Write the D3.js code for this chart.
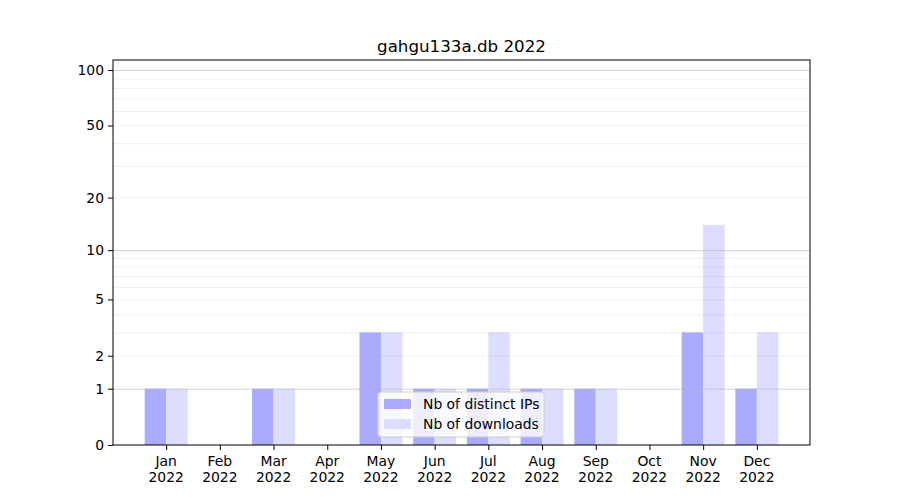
<!DOCTYPE html>
<html><head><meta charset="utf-8">
<script src="https://cdn.jsdelivr.net/npm/d3@7"></script>
<style>body{margin:0;background:#fff;} text{font-family:"DejaVu Sans",sans-serif;}</style>
</head><body>
<svg id="c" width="900" height="500"></svg>
<script>
const months = ["Jan","Feb","Mar","Apr","May","Jun","Jul","Aug","Sep","Oct","Nov","Dec"];
const year = "2022";
const distinctIPs = [1,0,1,0,3,1,1,1,1,0,3,1];
const downloads = [1,0,1,0,3,1,3,1,1,0,14,3];
const yTicks = [0,1,2,5,10,20,50,100];
const majorGrid = [1,10,100];
const minorGrid = [2,3,4,5,6,7,8,9,20,30,40,50,60,70,80,90];
const seriesNames = ["Nb of distinct IPs","Nb of downloads"];
const title = "gahgu133a.db 2022";

const L=113,R=810,T=60,B=445;
const FS=13.9;
const svg=d3.select("#c");
const x=d3.scaleLinear().domain([-0.99,11.99]).range([L,R]);
const y=d3.scaleSymlog().constant(1).domain([0,113.2]).range([B,T]);
const bw=0.4;
const colors=["#aaaaff","#ddddff"];

svg.append("g").selectAll("rect").data(distinctIPs).join("rect")
  .attr("x",(d,i)=>x(i-bw)).attr("width",x(bw)-x(0))
  .attr("y",d=>y(d)).attr("height",d=>y(0)-y(d)).attr("fill",colors[0]);
svg.append("g").selectAll("rect").data(downloads).join("rect")
  .attr("x",(d,i)=>x(i)).attr("width",x(bw)-x(0))
  .attr("y",d=>y(d)).attr("height",d=>y(0)-y(d)).attr("fill",colors[1]);

// grid
svg.append("g").selectAll("line").data(minorGrid).join("line")
  .attr("x1",L).attr("x2",R).attr("y1",d=>y(d)+0.5).attr("y2",d=>y(d)+0.5)
  .attr("stroke","#b0b0b0").attr("stroke-opacity",0.25).attr("stroke-width",0.8);
svg.append("g").selectAll("line").data(majorGrid).join("line")
  .attr("x1",L).attr("x2",R).attr("y1",d=>y(d)+0.5).attr("y2",d=>y(d)+0.5)
  .attr("stroke","#b0b0b0").attr("stroke-opacity",0.7).attr("stroke-width",0.8);

// axes
const yAxis=d3.axisLeft(y).tickValues(yTicks).tickFormat(d3.format("d")).tickSize(5).tickPadding(4);
const gy=svg.append("g").attr("transform",`translate(${L},0)`).call(yAxis);
gy.select(".domain").remove();
gy.selectAll("text").attr("font-size",FS).attr("fill","#000");
gy.selectAll("line").attr("stroke","#000");

const xAxis=d3.axisBottom(x).tickValues(d3.range(12)).tickFormat("").tickSize(5);
const gx=svg.append("g").attr("transform",`translate(0,${B})`).call(xAxis);
gx.select(".domain").remove();
gx.selectAll("line").attr("stroke","#000");
months.forEach((m,i)=>{
  const t=svg.append("text").attr("x",x(i)).attr("y",B+21).attr("text-anchor","middle").attr("font-size",FS);
  t.append("tspan").attr("x",x(i)).text(m);
  t.append("tspan").attr("x",x(i)).attr("dy",16).text(year);
});

svg.append("rect").attr("x",L).attr("y",T).attr("width",R-L).attr("height",B-T)
  .attr("fill","none").attr("stroke","#000").attr("stroke-width",1);

svg.append("text").attr("x",(L+R)/2).attr("y",52).attr("text-anchor","middle").attr("font-size",16.7).text(title);

// legend
const lg=svg.append("g").attr("transform","translate(378,392)");
lg.append("rect").attr("x",0).attr("y",0).attr("width",166).attr("height",45).attr("rx",3)
  .attr("fill","#fff").attr("fill-opacity",0.8).attr("stroke","#cccccc");
seriesNames.forEach((s,i)=>{
  lg.append("rect").attr("x",6).attr("y",7+i*20).attr("width",27).attr("height",10).attr("fill",colors[i]);
  lg.append("text").attr("x",45).attr("y",17+i*20).attr("font-size",FS).text(s);
});
</script>
</body></html>
